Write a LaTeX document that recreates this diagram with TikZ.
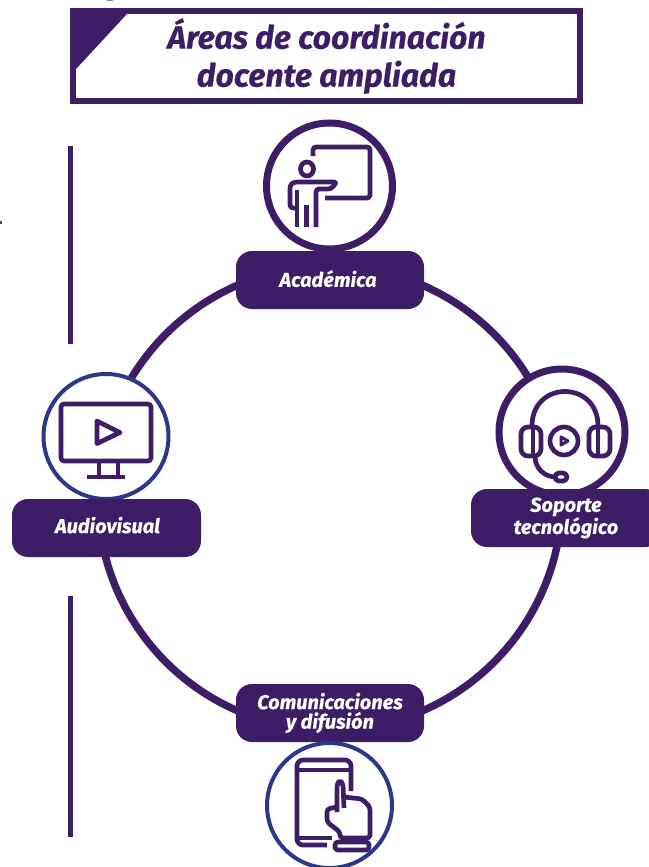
\documentclass[tikz,border=0pt]{standalone}
\usepackage{fontspec}
\setmainfont{Fira Sans}
\usepackage{tikz}
\usetikzlibrary{positioning, calc}
\definecolor{morado}{HTML}{3D1E66}
\definecolor{azulrim}{HTML}{2B3788}
\tikzset{
  etiqueta/.style={fill=morado, rounded corners=16pt, minimum height=58pt, text=white,
                   align=center, inner sep=0pt,
                   font=\bfseries\itshape\fontsize{20}{19.5}\selectfont\addfontfeature{FakeBold=0.4}},
  aro/.style={draw=morado, line width=7pt, fill=white, circle, minimum size=126pt, inner sep=0pt},
  aroazul/.style={draw=azulrim, line width=4pt, fill=white, circle, minimum size=125pt, inner sep=0pt},
  icono/.style={draw=morado, line width=4.7pt, line join=round},
  barra/.style={draw=morado, line width=5pt}
}
\begin{document}
\begin{tikzpicture}[x=1pt,y=-1pt]
  \useasboundingbox (0,0) rectangle (648,867);
  % barras laterales
  \coordinate (barraA) at (70,146);
  \coordinate (barraB) at (70,344);
  \coordinate (barraC) at (70,596);
  \coordinate (barraD) at (70,837);
  \draw[barra] (barraA) -- (barraB);
  \draw[barra] (barraC) -- (barraD);
  % marcas sueltas
  \fill[black!70] (0,221) rectangle (2,224);
  \fill[morado!60] (107,0) rectangle (113,1);
  % titulo
  \node (titulo) [draw=morado, line width=5.5pt, minimum width=507pt, minimum height=90pt,
                  text=morado, align=center, inner sep=0pt,
                  font=\bfseries\itshape\fontsize{32}{38}\selectfont\addfontfeature{FakeBold=0.6}]
                  at (326.5,56) {\raisebox{-4.5pt}{Áreas de coordinación}\\\raisebox{-4.5pt}{docente ampliada}};
  \fill[morado] (titulo.north west) -- ++(62,0) -- (76,69) -- (titulo.west |- 0,69) -- cycle;
  % anillo
  \coordinate (centro) at (330,498);
  \draw[morado, line width=7.5pt] (centro) circle (232);
  % circulos
  \node (circAcad) [aro] at (329.5,186) {};
  \node (circSop) [aro] at (562,432) {};
  \node (circAud) [aroazul] at (106,436.5) {};
  % etiquetas
  \node (etAcad) [etiqueta, minimum width=188pt] at (330,280) {\raisebox{3pt}{\hspace*{-4pt}Académica}};
  \node (etAud) [etiqueta, minimum width=189pt] at (106.5,528) {\raisebox{6pt}{\hspace*{2pt}Audiovisual}};
  \node (etSop) [etiqueta, minimum width=190pt] at (566,518) {Soporte\\tecnológico};
  \node (etCom) [etiqueta, minimum width=188pt] at (330,713) {Comunicaciones\\y difusión};
  \node (circCom) [aroazul] at (329.5,805.5) {};
  % pizarra
  \draw[icono, rounded corners=3pt] (313,156) -- (313,147) -- (370,147) -- (370,198) -- (325,198);
  \draw[icono] (307,169) ellipse (6.5 and 7);
  \draw[icono, rounded corners=2pt] (297,190) -- (297,227);
  \draw[icono, rounded corners=3pt] (297,208) -- (290,208) -- (290,185) -- (294,182)
    -- (337,182) -- (331,189) -- (316,189) -- (316,227);
  \draw[icono] (306.5,205) -- (306.5,227);
  % monitor
  \draw[icono, rounded corners=3pt] (61,404) rectangle (151,461);
  \draw[icono] (97,421) -- (97,443.5) -- (120,432.5) -- cycle;
  \draw[icono] (99,461) -- (99,475) (118,461) -- (118,475);
  \draw[icono] (87,477) -- (125,477);
  % audifonos
  \draw[icono] (532,426) .. controls (532,380) and (598,380) .. (598,426);
  \draw[icono, rounded corners=7pt] (521,427) rectangle (541,456);
  \draw[icono, rounded corners=7pt] (589,427) rectangle (610,456);
  \draw[icono] (533,427) -- (533,456) (598,427) -- (598,456);
  \draw[icono] (564,441) circle (14);
  \draw[icono, line width=3pt] (561,437) -- (561,445) -- (568,441) -- cycle;
  \draw[icono] (535,456) .. controls (535,469) and (545,477) .. (556,477);
  \draw[icono, rounded corners=4pt] (555,473) rectangle (567,481);
  % movil
  \draw[icono, rounded corners=6pt] (327,845) -- (297,845) -- (297,760) -- (351,760) -- (351,791);
  \draw[icono] (297,770) -- (351,770);
  \draw[icono] (297,838) -- (332,838);
  \draw[icono, rounded corners=3pt] (337,812) -- (337,784) -- (340,780) -- (343,784) -- (344,808)
    (344,797) -- (362,799) -- (370,807) -- (370,838) -- (340,838) -- (340,832) -- (327,822) -- (327,809) -- (337,807);
  \draw[icono, rounded corners=3pt] (335,842) rectangle (369,850);
\end{tikzpicture}
\end{document}
